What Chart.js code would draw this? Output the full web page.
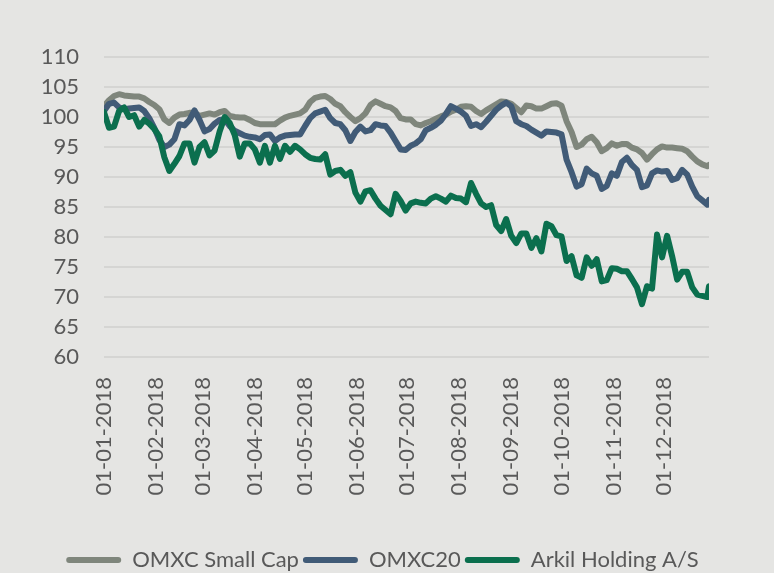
<!DOCTYPE html>
<html>
<head>
<meta charset="utf-8">
<script src="https://cdn.jsdelivr.net/npm/chart.js@4.4.1/dist/chart.umd.min.js"></script>
<style>
  html, body { margin: 0; padding: 0; background: #E5E5E3; }
  #wrap { width: 774px; height: 573px; }
</style>
</head>
<body>
<div id="wrap"><canvas id="c" width="774" height="573"></canvas></div>
<script>
// Day offsets from 01-01-2018
const days = [0,3,6,9,12,15,18,21,24,27,30,33,36,39,42,45,48,51,54,57,60,63,66,69,72,75,78,81,84,87,90,93,96,99,102,105,108,111,114,117,120,123,126,129,132,135,138,141,144,147,150,153,156,159,162,165,168,171,174,177,180,183,186,189,192,195,198,201,204,207,210,213,216,219,222,225,228,231,234,237,240,243,246,249,252,255,258,261,264,267,270,273,276,279,282,285,288,291,294,297,300,303,306,309,312,315,318,321,324,327,330,333,336,339,342,345,348,351,354,357,360,361];

const smallCap = [101.8,102.8,103.5,103.8,103.6,103.5,103.4,103.4,103.1,102.5,102.0,101.3,99.6,99.0,99.9,100.4,100.5,100.7,100.7,100.2,100.4,100.6,100.4,100.8,101.0,100.2,100.0,99.9,99.9,99.5,99.0,98.8,98.8,98.8,98.8,99.4,99.9,100.2,100.4,100.6,101.2,102.5,103.2,103.4,103.5,103.0,102.2,101.8,100.8,100.0,99.3,99.8,100.6,102.0,102.6,102.2,101.8,101.6,101.0,99.8,99.6,99.6,98.8,98.6,99.0,99.3,99.7,100.1,100.4,100.9,101.2,101.7,101.8,101.7,101.0,100.5,101.1,101.6,102.1,102.6,102.5,102.2,101.5,100.8,101.9,101.8,101.4,101.4,101.8,102.2,102.3,101.9,99.3,97.5,95.0,95.4,96.3,96.7,95.8,94.3,94.8,95.6,95.2,95.5,95.5,94.9,94.6,94.0,92.9,93.8,94.6,95.1,94.9,94.9,94.8,94.7,94.3,93.4,92.6,92.1,91.8,92.0];

const omxc20 = [101.0,102.2,102.4,101.6,101.3,101.4,101.5,101.6,101.0,99.8,98.2,96.2,95.0,95.4,96.3,98.8,98.6,99.5,101.1,99.5,97.6,98.0,98.9,99.5,99.6,98.5,97.7,97.3,96.9,96.7,96.6,96.3,97.0,97.1,96.0,96.6,96.9,97.0,97.1,97.1,98.5,99.8,100.6,100.9,101.2,99.8,99.0,98.8,97.8,96.0,97.5,98.4,97.6,97.8,98.8,98.6,98.5,97.4,96.0,94.6,94.5,95.2,95.6,96.3,97.8,98.2,98.7,99.4,100.5,101.8,101.4,100.9,100.2,98.5,98.8,98.3,99.2,100.2,101.2,101.9,102.4,101.8,99.3,98.8,98.5,97.9,97.4,96.9,97.6,97.5,97.4,97.1,92.9,90.8,88.4,88.8,91.4,90.6,90.2,88.0,88.5,90.6,90.2,92.5,93.2,92.0,91.2,88.3,88.6,90.6,91.1,90.9,91.0,89.5,89.8,91.2,90.4,88.4,86.8,86.1,85.4,86.2];

const arkil = [100.8,98.2,98.4,101.0,101.6,100.0,100.3,98.4,99.5,98.9,98.0,96.8,93.3,91.0,92.2,93.5,95.6,95.6,92.4,95.0,95.8,93.6,94.4,97.6,100.0,99.0,97.0,93.4,95.6,95.6,94.6,92.4,95.2,92.4,95.2,93.0,95.2,94.2,95.2,94.6,93.8,93.2,93.0,92.9,93.8,90.4,91.0,91.2,90.2,90.8,87.4,85.9,87.6,87.8,86.4,85.2,84.5,83.8,87.2,86.0,84.4,85.6,85.9,85.7,85.6,86.4,86.8,86.4,85.9,86.9,86.5,86.4,85.8,89.0,87.2,85.6,85.0,85.3,82.0,81.0,83.0,80.2,79.0,80.6,80.6,78.2,79.8,77.6,82.2,81.8,80.3,80.1,76.0,76.8,73.6,73.2,76.6,75.2,76.3,72.6,72.8,74.8,74.7,74.3,74.3,73.0,71.6,68.8,71.8,71.4,80.4,76.6,80.2,76.8,72.9,74.2,74.2,71.6,70.4,70.2,70.0,71.8];

const seriesNames = ['OMXC Small Cap', 'OMXC20', 'Arkil Holding A/S'];
const tickDays = [0,31,59,90,120,151,181,212,243,273,304,334];
const tickLabels = ['01-01-2018','01-02-2018','01-03-2018','01-04-2018','01-05-2018','01-06-2018','01-07-2018','01-08-2018','01-09-2018','01-10-2018','01-11-2018','01-12-2018'];

const colors = ['#7F867C', '#415B77', '#0B6F4E'];
const FONT = 'Lato, "DejaVu Sans", sans-serif';
const TXT = '#595959';

function pts(vals) { return days.map((d, i) => ({ x: d, y: vals[i] })); }

const datasets = [smallCap, omxc20, arkil].map((vals, i) => ({
  label: seriesNames[i],
  data: pts(vals),
  borderColor: colors[i],
  backgroundColor: colors[i],
  borderWidth: 6,
  pointRadius: 0,
  tension: 0,
  borderJoinStyle: 'round',
  borderCapStyle: 'round',
  order: 3 - i
}));

new Chart(document.getElementById('c'), {
  type: 'line',
  data: { datasets },
  options: {
    responsive: false,
    animation: false,
    layout: { padding: { top: 57, left: 0, right: 9, bottom: -8 } },
    plugins: {
      tooltip: { enabled: false },
      legend: {
        position: 'bottom',
        labels: {
          font: { family: FONT, size: 22 },
          color: TXT,
          boxWidth: 55,
          boxHeight: 6,
          padding: 4,
          generateLabels: (chart) => chart.data.datasets.map((ds, i) => ({
            text: ds.label,
            fillStyle: ds.borderColor,
            strokeStyle: ds.borderColor,
            lineWidth: 0,
            borderRadius: 3,
            fontColor: TXT,
            hidden: false,
            datasetIndex: i
          })),
          useBorderRadius: true,
          borderRadius: 3
        }
      }
    },
    scales: {
      x: {
        type: 'linear',
        min: 0,
        max: 361,
        grid: { display: false, drawTicks: false },
        border: { display: false },
        afterBuildTicks: (axis) => { axis.ticks = tickDays.map(v => ({ value: v })); },
        afterFit: (axis) => { axis.height = 188; },
        ticks: {
          autoSkip: false,
          minRotation: 90,
          maxRotation: 90,
          padding: 20,
          color: TXT,
          font: { family: FONT, size: 22 },
          callback: (v, i) => tickLabels[i]
        }
      },
      y: {
        min: 60,
        max: 110,
        grid: { color: '#D5D5D3', lineWidth: 2, drawTicks: false },
        border: { display: false },
        afterFit: (axis) => { axis.width = 104; },
        ticks: {
          stepSize: 5,
          padding: 25,
          color: TXT,
          font: { family: FONT, size: 22 }
        }
      },
      yRightSpace: {
        position: 'right',
        display: true,
        grid: { display: false, drawTicks: false },
        border: { display: false },
        ticks: { display: false },
        afterFit: (axis) => { axis.width = 56; }
      }
    }
  }
});
</script>
</body>
</html>
